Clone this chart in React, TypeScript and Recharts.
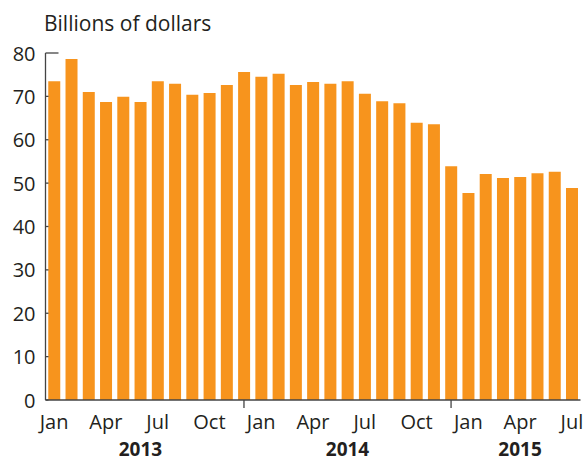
import React from 'react';
import { BarChart, Bar, XAxis, YAxis } from 'recharts';

const monthLabels = [
  'Jan','Feb','Mar','Apr','May','Jun','Jul','Aug','Sep','Oct','Nov','Dec',
  'Jan','Feb','Mar','Apr','May','Jun','Jul','Aug','Sep','Oct','Nov','Dec',
  'Jan','Feb','Mar','Apr','May','Jun','Jul',
];
const yearOf = [
  2013,2013,2013,2013,2013,2013,2013,2013,2013,2013,2013,2013,
  2014,2014,2014,2014,2014,2014,2014,2014,2014,2014,2014,2014,
  2015,2015,2015,2015,2015,2015,2015,
];
const values = [
  73.5, 78.6, 71.0, 68.7, 69.9, 68.7, 73.5, 72.9, 70.4, 70.8, 72.6, 75.6,
  74.5, 75.2, 72.6, 73.3, 72.9, 73.5, 70.6, 68.9, 68.4, 63.9, 63.6, 53.9,
  47.7, 52.1, 51.2, 51.4, 52.3, 52.6, 48.9,
];
const yTicks = [0, 10, 20, 30, 40, 50, 60, 70, 80];
const shownMonths = ['Jan', 'Apr', 'Jul', 'Oct'];
const yearLabelAt: Record<number, string> = { 5: '2013', 17: '2014', 27: '2015' };
const separatorAt = [11, 23];

const data = values.map((v, i) => ({
  key: `${yearOf[i]}-${monthLabels[i]}`,
  month: monthLabels[i],
  value: v,
}));

const FONT = '"Open Sans", "Noto Sans", sans-serif';
const TEXT = '#231f20';
const AXIS = '#444444';

const XTick = (props: any) => {
  const { x, y, payload } = props;
  const i = payload.index;
  const m = monthLabels[i];
  return (
    <g>
      {shownMonths.includes(m) && (
        <text x={x} y={y + 29} textAnchor="middle" fontSize={20} fill={TEXT} fontFamily={FONT}>
          {m}
        </text>
      )}
      {yearLabelAt[i] && (
        <text x={x} y={y + 56} textAnchor="middle" fontSize={19} fontWeight="bold" fill={TEXT} fontFamily={FONT}>
          {yearLabelAt[i]}
        </text>
      )}
      {separatorAt.includes(i) && (
        <line x1={x} x2={x} y1={y} y2={y + 8} stroke={AXIS} strokeWidth={1.3} />
      )}
    </g>
  );
};

const YTick = (props: any) => {
  const { x, y, payload } = props;
  const len = payload.value === 80 ? 13 : 3;
  return (
    <g>
      <line x1={x} x2={x + len} y1={y} y2={y} stroke={AXIS} strokeWidth={1.3} />
      <text x={x - 10} y={y} textAnchor="end" dominantBaseline="central" fontSize={20} fill={TEXT} fontFamily={FONT}>
        {payload.value}
      </text>
    </g>
  );
};

export default function App() {
  return (
    <div style={{ position: 'absolute', left: 0, top: 0, width: 586, height: 461, background: '#fff' }}>
      <BarChart
        width={586}
        height={461}
        data={data}
        margin={{ top: 53, right: 5.5, bottom: 0, left: 5.5 }}
        barCategoryGap="16%"
      >
        <XAxis
          dataKey="key"
          interval={0}
          height={61}
          tickSize={0}
          tickMargin={0}
          tickLine={false}
          axisLine={{ stroke: AXIS, strokeWidth: 1.3 }}
          tick={XTick}
        />
        <YAxis
          width={40}
          domain={[0, 80]}
          ticks={yTicks}
          interval={0}
          tickSize={0}
          tickMargin={0}
          tickLine={false}
          axisLine={{ stroke: AXIS, strokeWidth: 1.3 }}
          tick={YTick}
        />
        <Bar dataKey="value" fill="#F7941D" isAnimationActive={false} />
      </BarChart>
      <svg
        width={586}
        height={461}
        style={{ position: 'absolute', left: 0, top: 0, pointerEvents: 'none' }}
      >
        <text x={44} y={31} fontSize={21} fill={TEXT} fontFamily={FONT}>
          Billions of dollars
        </text>
      </svg>
    </div>
  );
}
